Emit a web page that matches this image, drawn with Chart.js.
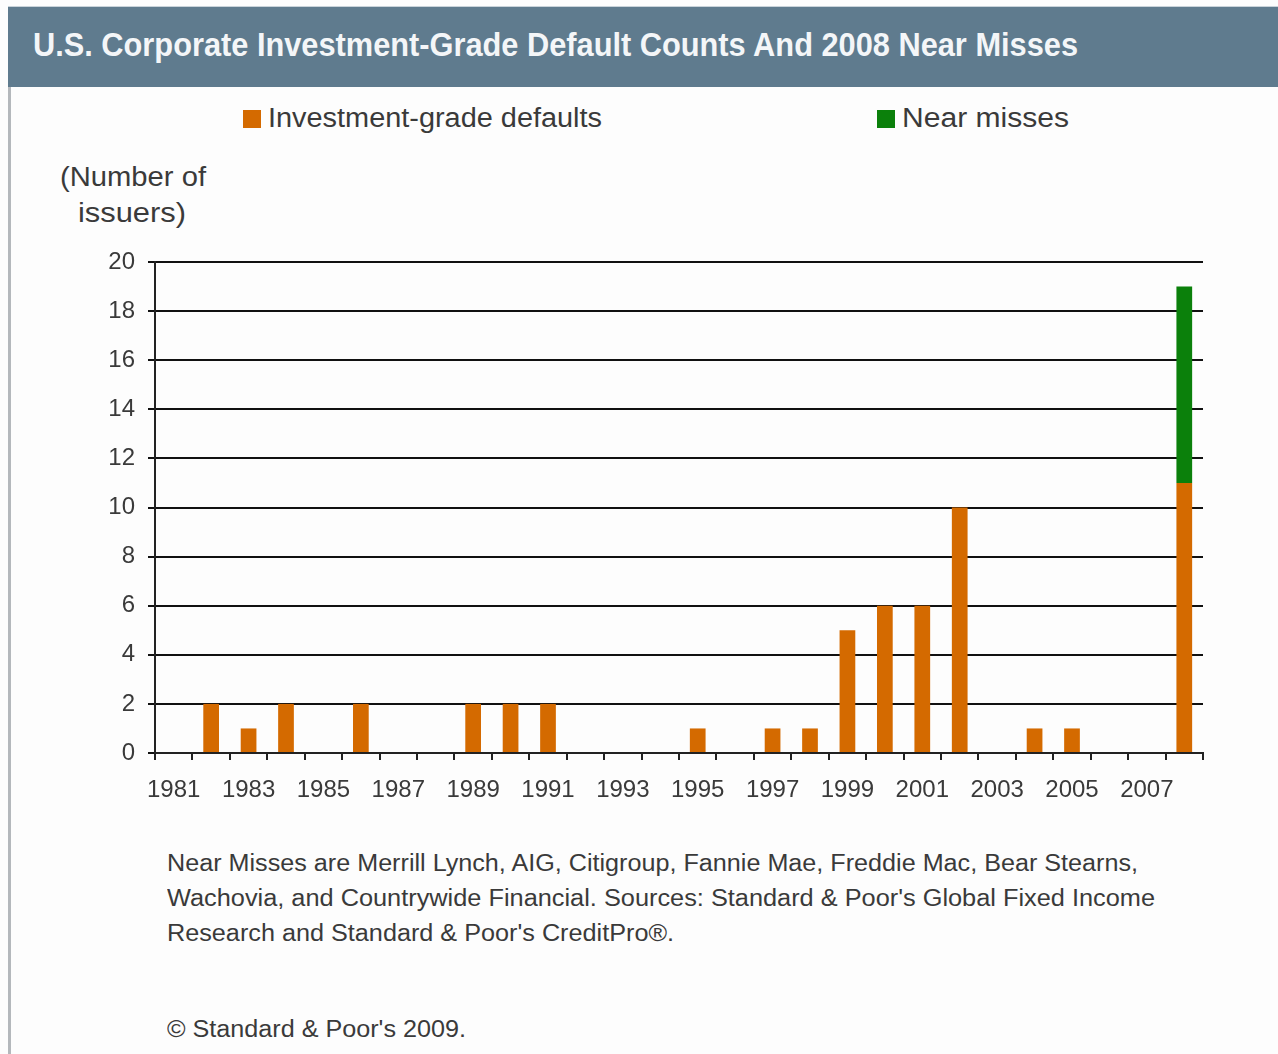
<!DOCTYPE html>
<html>
<head>
<meta charset="utf-8">
<script src="https://cdn.jsdelivr.net/npm/chart.js@4/dist/chart.umd.min.js"></script>
<style>
  html, body { margin: 0; padding: 0; background: #fdfdfd; }
  body { width: 1278px; height: 1054px; position: relative; overflow: hidden; font-family: "Liberation Sans", Arial, sans-serif; color: #3a3a3a; }
  #leftline { position: absolute; left: 8px; top: 6px; width: 3px; height: 1048px; background: #b4b8bc; }
  #titlebar { position: absolute; left: 8px; top: 6px; width: 1270px; height: 80px; background: #5f7b8e; border-top: 1px solid #c9d3da; }
  #title { position: absolute; left: 33px; top: 25px; font-weight: bold; font-size: 33px; line-height: 40px; color: #f4f6f8; white-space: nowrap; transform-origin: 0 0; }
  .leg { position: absolute; top: 102px; font-size: 27px; line-height: 32px; white-space: nowrap; color: #3a3a3a; }
  .leg span.box { position: absolute; top: 8px; width: 18px; height: 18px; }
  .leg span.txt { position: absolute; left: 25px; top: 0; transform-origin: 0 0; white-space: nowrap; }
  .yt { position: absolute; font-size: 27px; line-height: 32px; color: #3a3a3a; white-space: nowrap; transform-origin: 0 0; }
  .nt { position: absolute; left: 167px; font-size: 23px; line-height: 30px; color: #3a3a3a; white-space: nowrap; transform-origin: 0 0; }
  #wrap { position: absolute; left: 0; top: 250px; width: 1278px; height: 560px; }
</style>
</head>
<body>
<div id="leftline"></div>
<div id="titlebar"></div>
<div id="title" data-w="1045">U.S. Corporate Investment-Grade Default Counts And 2008 Near Misses</div>
<div id="legend"></div>
<div class="yt" data-x="60" data-w="146" style="top:161px">(Number of</div>
<div class="yt" data-x="78" data-w="108" style="top:197px">issuers)</div>
<div class="nt" data-w="971" style="top:848px">Near Misses are Merrill Lynch, AIG, Citigroup, Fannie Mae, Freddie Mac, Bear Stearns,</div>
<div class="nt" data-w="988" style="top:883px">Wachovia, and Countrywide Financial. Sources: Standard &amp; Poor's Global Fixed Income</div>
<div class="nt" data-w="507" style="top:918px">Research and Standard &amp; Poor's CreditPro®.</div>
<div class="nt" data-w="299" style="top:1014px">© Standard &amp; Poor's 2009.</div>
<div id="wrap"><canvas id="c" width="1278" height="560"></canvas></div>
<script>
const years = ["1981","1982","1983","1984","1985","1986","1987","1988","1989","1990","1991","1992","1993","1994","1995","1996","1997","1998","1999","2000","2001","2002","2003","2004","2005","2006","2007","2008"];
const tickLabels = ["1981","","1983","","1985","","1987","","1989","","1991","","1993","","1995","","1997","","1999","","2001","","2003","","2005","","2007",""];
const investmentGradeDefaults = [0,2,1,2,0,2,0,0,2,2,2,0,0,0,1,0,1,1,5,6,6,10,0,1,1,0,0,11];
const nearMisses = [0,0,0,0,0,0,0,0,0,0,0,0,0,0,0,0,0,0,0,0,0,0,0,0,0,0,0,8];
const yTicks = [0,2,4,6,8,10,12,14,16,18,20];

const seriesNames = ["Investment-grade defaults", "Near misses"];
const seriesColors = ["#d46a00", "#0b800b"];

// HTML legend built from the series definitions
const legendPos = [243, 877];
const legendW = [334, 167];
const legend = document.getElementById('legend');
seriesNames.forEach((n, i) => {
  const d = document.createElement('div');
  d.className = 'leg';
  d.style.left = legendPos[i] + 'px';
  d.innerHTML = '<span class="box" style="background:' + seriesColors[i] + '"></span><span class="txt" data-w="' + legendW[i] + '">' + n + '</span>';
  legend.appendChild(d);
});

// fit text widths to the reference
document.querySelectorAll('[data-w]').forEach(el => {
  const w = el.getBoundingClientRect().width;
  el.style.transform = 'scaleX(' + (parseFloat(el.dataset.w) / w) + ')';
  if (el.dataset.x) el.style.left = el.dataset.x + 'px';
});

new Chart(document.getElementById('c'), {
  type: 'bar',
  data: {
    labels: years,
    datasets: [
      { label: seriesNames[0], data: investmentGradeDefaults, backgroundColor: seriesColors[0], barPercentage: 0.42, categoryPercentage: 1.0 },
      { label: seriesNames[1], data: nearMisses, backgroundColor: seriesColors[1], barPercentage: 0.42, categoryPercentage: 1.0 }
    ]
  },
  options: {
    responsive: false,
    animation: false,
    layout: { padding: { left: 0, right: 75, top: 12, bottom: 0 } },
    plugins: { legend: { display: false }, tooltip: { enabled: false } },
    scales: {
      x: {
        stacked: true,
        offset: true,
        grid: { offset: true, drawOnChartArea: false, drawTicks: true, tickLength: 7, color: '#222', lineWidth: 2 },
        border: { display: true, color: '#222', width: 2 },
        ticks: {
          autoSkip: false, maxRotation: 0, minRotation: 0, padding: 16,
          color: '#3a3a3a', font: { family: 'Liberation Sans', size: 24 },
          callback: (v, i) => tickLabels[i]
        },
        afterFit: s => { s.height = 57; s.paddingLeft = 0; s.paddingRight = 0; }
      },
      y: {
        stacked: true,
        min: 0, max: 20,
        afterBuildTicks: s => { s.ticks = yTicks.map(v => ({ value: v })); },
        grid: { color: '#111', lineWidth: 2, tickLength: 7, drawTicks: true },
        border: { display: true, color: '#222', width: 2 },
        ticks: { color: '#3a3a3a', padding: 13, font: { family: 'Liberation Sans', size: 24 } },
        afterFit: s => { s.width = 155; s.paddingTop = 0; s.paddingBottom = 0; }
      }
    }
  }
});
</script>
</body>
</html>
